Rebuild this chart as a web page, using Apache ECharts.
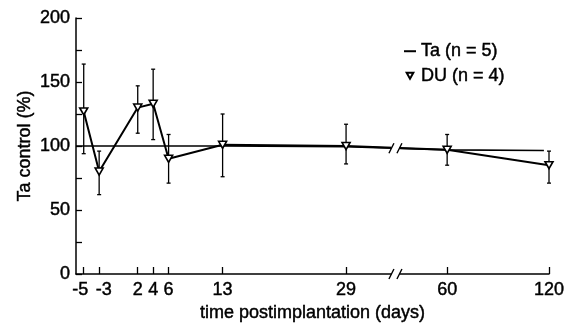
<!DOCTYPE html>
<html><head><meta charset="utf-8">
<script src="https://cdn.jsdelivr.net/npm/echarts@6/dist/echarts.min.js"></script>
<style>html,body{margin:0;padding:0;background:#fff}#c{width:573px;height:327px}</style>
</head><body><div id="c"></div>
<script>
// ---- data ----
const days = [-5, -3, 2, 4, 6, 13, 29, 60, 120];
const dayLabels = ['-5', '-3', '2', '4', '6', '13', '29', '60', '120'];
const duMean = [127, 80, 130, 133, 90, 101, 100, 97, 85];
const duUpper = [164, 96, 147, 160, 109, 125, 117, 109, 96];
const duLower = [94, 62, 110, 105, 71, 76, 86, 85, 71];
const taDays = [-6, 13, 29, 60, 117];
const taValues = [100, 100, 99.5, 97, 96.5];
const yTicks = [0, 50, 100, 150, 200];

// ---- broken time axis: early days linear, days >= 60 compressed ----
const axisStart = -6;
const breakPos = 35.4;
const lateStartDay = 60;
const lateStartPos = 42.1;
const lateScale = 0.22;
function pos(d) { return d < lateStartDay ? d : lateStartPos + (d - lateStartDay) * lateScale; }
const axisEnd = pos(days[days.length - 1]);
const tickPos = days.map(pos);
// the crowded label (-3) is drawn by a second, label-only axis so it is not hidden
const crowdedIdx = 1;
const mainLabelPos = tickPos.filter((p, i) => i !== crowdedIdx);
const crowdedLabelPos = [tickPos[crowdedIdx]];

function labelFor(v) {
  let best = 0;
  tickPos.forEach((p, i) => { if (Math.abs(p - v) < Math.abs(tickPos[best] - v)) best = i; });
  return best;
}

// Ta value where the line crosses the break
function taAt(p) {
  const xs = taDays.map(pos);
  for (let i = 0; i < xs.length - 1; i++) {
    if (p >= xs[i] && p <= xs[i + 1]) {
      const t = (p - xs[i]) / (xs[i + 1] - xs[i]);
      return taValues[i] + t * (taValues[i + 1] - taValues[i]);
    }
  }
  return taValues[0];
}

const FONT = '"Liberation Sans", Arial, Helvetica, sans-serif';
const tri = 'path://M0,0 L10,0 L5,9 Z';
const dash = 'path://M0,0 L12,0 L12,2 L0,2 Z';
const heavy = { textBorderColor: '#000', textBorderWidth: 0.45 };
const labelBase = Object.assign({ margin: 7, fontSize: 18, color: '#000', fontFamily: FONT }, heavy);

const chart = echarts.init(document.getElementById('c'), null, { renderer: 'canvas' });
chart.setOption({
  animation: false,
  backgroundColor: '#fff',
  textStyle: { fontFamily: FONT, color: '#000' },
  grid: { left: 76, right: 24, top: 18, bottom: 53, containLabel: false, outerBoundsMode: 'none' },
  legend: {
    orient: 'vertical',
    left: 399,
    top: 37,
    itemWidth: 12,
    itemHeight: 6,
    itemGap: 6,
    symbolKeepAspect: true,
    textStyle: Object.assign({ fontFamily: FONT, fontSize: 18, color: '#000' }, heavy),
    data: [
      { name: 'Ta (n = 5)', icon: dash, itemStyle: { color: '#000', borderWidth: 0 } },
      { name: 'DU (n = 4)', icon: tri }
    ]
  },
  xAxis: [
    {
      type: 'value',
      min: axisStart,
      max: axisEnd,
      name: 'time postimplantation (days)',
      nameLocation: 'middle',
      nameGap: 30,
      nameTextStyle: Object.assign({ fontSize: 18, color: '#000', fontFamily: FONT }, heavy),
      axisLine: { show: true, onZero: false, lineStyle: { color: '#000', width: 1.5 } },
      axisTick: { show: true, inside: true, length: 7, customValues: tickPos, lineStyle: { color: '#000', width: 1.3 } },
      axisLabel: Object.assign({}, labelBase, {
        customValues: mainLabelPos,
        formatter: function (v) {
          const i = labelFor(v);
          return i === 0 ? '{l|' + dayLabels[i] + '}' : dayLabels[i];
        },
        rich: { l: { padding: [0, 7, 0, 0], fontSize: 18, fontFamily: FONT, color: '#000', textBorderColor: '#000', textBorderWidth: 0.45 } }
      }),
      splitLine: { show: false }
    },
    {
      type: 'value',
      position: 'bottom',
      min: axisStart,
      max: axisEnd,
      axisLine: { show: false, onZero: false },
      axisTick: { show: false },
      axisLabel: Object.assign({}, labelBase, {
        customValues: crowdedLabelPos,
        padding: [0, 0, 0, 9],
        formatter: function (v) { return dayLabels[labelFor(v)]; }
      }),
      splitLine: { show: false }
    }
  ],
  yAxis: {
    type: 'value',
    min: yTicks[0],
    max: yTicks[yTicks.length - 1],
    interval: 50,
    name: 'Ta control (%)',
    nameLocation: 'middle',
    nameGap: 42,
    nameMoveOverlap: false,
    nameTextStyle: Object.assign({ fontSize: 18, color: '#000', fontFamily: FONT }, heavy),
    axisLine: { show: true, onZero: false, lineStyle: { color: '#000', width: 1.5 } },
    axisTick: { show: true, inside: true, length: 6, lineStyle: { color: '#000', width: 1.3 } },
    minorTick: { show: true, splitNumber: 2, length: 6, lineStyle: { color: '#000', width: 1.3 } },
    axisLabel: Object.assign({ margin: 6, fontSize: 18, color: '#000', fontFamily: FONT }, heavy),
    splitLine: { show: false }
  },
  series: [
    {
      name: 'Ta (n = 5)',
      type: 'line',
      data: taDays.map((d, i) => [pos(d), taValues[i]]),
      symbol: 'none',
      lineStyle: { color: '#000', width: 1.6 },
      itemStyle: { color: '#000' },
      z: 2
    },
    {
      name: 'DU (n = 4)',
      type: 'line',
      data: days.map((d, i) => [pos(d), duMean[i]]),
      symbol: tri,
      symbolSize: [8, 7],
      showAllSymbol: true,
      lineStyle: { color: '#000', width: 2 },
      itemStyle: { color: '#fff', borderColor: '#000', borderWidth: 1.6 },
      z: 5
    },
    {
      name: 'err',
      type: 'custom',
      data: days.map((d, i) => [pos(d), duLower[i], duUpper[i]]),
      encode: { x: 0, y: [1, 2] },
      z: 4,
      renderItem: function (params, api) {
        const x = api.value(0);
        const lo = api.coord([x, api.value(1)]);
        const hi = api.coord([x, api.value(2)]);
        const cap = 2;
        const st = { stroke: '#000', lineWidth: 1.3 };
        return {
          type: 'group',
          children: [
            { type: 'line', shape: { x1: lo[0], y1: lo[1], x2: hi[0], y2: hi[1] }, style: st },
            { type: 'line', shape: { x1: lo[0] - cap, y1: lo[1], x2: lo[0] + cap, y2: lo[1] }, style: st },
            { type: 'line', shape: { x1: hi[0] - cap, y1: hi[1], x2: hi[0] + cap, y2: hi[1] }, style: st }
          ]
        };
      }
    },
    {
      name: 'breaks',
      type: 'custom',
      data: [[breakPos, 0], [breakPos, taAt(breakPos)]],
      encode: { x: 0, y: 1 },
      clip: false,
      silent: true,
      z: 10,
      renderItem: function (params, api) {
        const c = api.coord([api.value(0), api.value(1)]);
        const x = c[0], y = c[1];
        const st = { stroke: '#000', lineWidth: 1.4 };
        return {
          type: 'group',
          children: [
            { type: 'rect', shape: { x: x - 4, y: y - 4, width: 8, height: 8 }, style: { fill: '#fff' } },
            { type: 'line', shape: { x1: x - 6.5, y1: y + 5, x2: x - 1.5, y2: y - 5 }, style: st },
            { type: 'line', shape: { x1: x + 1.5, y1: y + 5, x2: x + 6.5, y2: y - 5 }, style: st }
          ]
        };
      }
    }
  ]
});
</script>
</body></html>
